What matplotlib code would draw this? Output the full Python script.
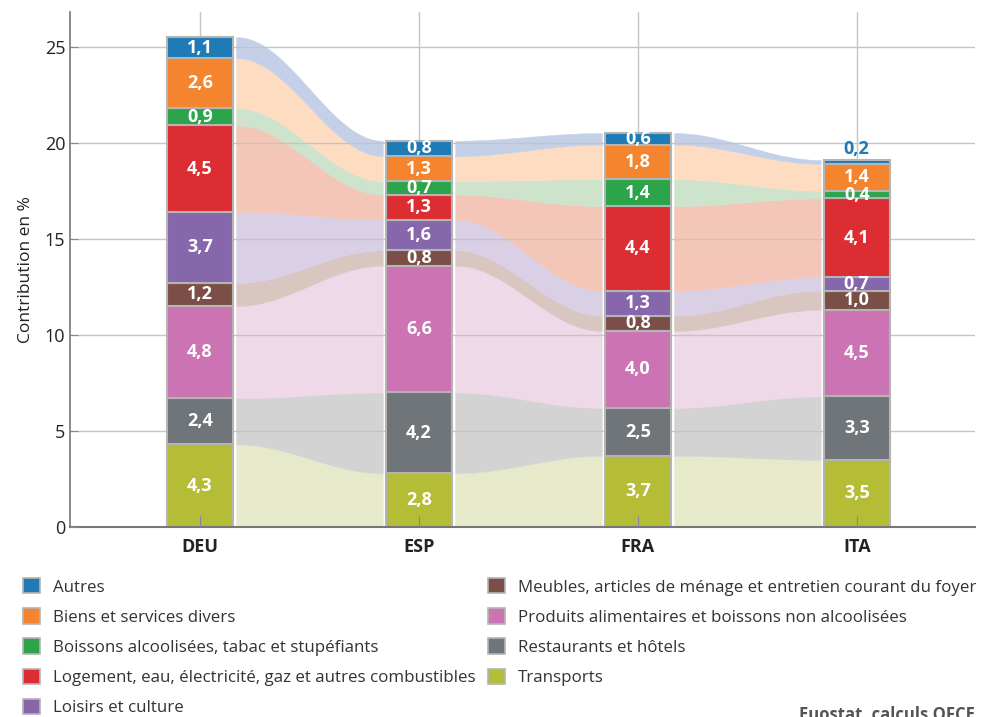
import numpy as np
import matplotlib.pyplot as plt
from matplotlib.patches import Patch

plt.rcParams['font.family'] = ['Open Sans', 'DejaVu Sans']

pays = ['DEU', 'ESP', 'FRA', 'ITA']

# contributions par poste (en points de %), ordre : DEU, ESP, FRA, ITA
autres = [1.1, 0.8, 0.6, 0.2]
biens_services = [2.6, 1.3, 1.8, 1.4]
boissons = [0.9, 0.7, 1.4, 0.4]
logement = [4.5, 1.3, 4.4, 4.1]
loisirs = [3.7, 1.6, 1.3, 0.7]
meubles = [1.2, 0.8, 0.8, 1.0]
produits_alim = [4.8, 6.6, 4.0, 4.5]
restaurants = [2.4, 4.2, 2.5, 3.3]
transports = [4.3, 2.8, 3.7, 3.5]

noms = ['Autres',
        'Biens et services divers',
        'Boissons alcoolisées, tabac et stupéfiants',
        'Logement, eau, électricité, gaz et autres combustibles',
        'Loisirs et culture',
        'Meubles, articles de ménage et entretien courant du foyer',
        'Produits alimentaires et boissons non alcoolisées',
        'Restaurants et hôtels',
        'Transports']
series = [autres, biens_services, boissons, logement, loisirs,
          meubles, produits_alim, restaurants, transports]
couleurs = ['#1f7bb6', '#f5842e', '#2ca54a', '#dc2e32', '#8767ac',
            '#7b4f47', '#cc74b3', '#70757a', '#b5bd37']
# couleurs pâles des rubans
pales = ['#c4d0e8', '#fddcc2', '#cde3cb', '#f3c6b8', '#d9d0e6',
         '#d9c6c1', '#efd8e8', '#d3d3d3', '#e6eacb']

fig = plt.figure(figsize=(9.97, 7.17), dpi=100)
ax = fig.add_axes([70 / 997, 1 - 527 / 717, 905 / 997, 515 / 717])

x = np.arange(len(pays))
w = 0.30
gap = 0.015

# empilement de bas en haut : ordre inverse de la légende
ordre = list(range(len(series)))[::-1]
vals = np.array([series[k] for k in ordre])
bas = np.vstack([np.zeros(len(pays)), np.cumsum(vals, axis=0)[:-1]])
haut = np.cumsum(vals, axis=0)

# rubans entre les barres
for i in range(len(pays) - 1):
    x0 = x[i] + w / 2 + gap
    x1 = x[i + 1] - w / 2 - gap
    xs = np.linspace(x0, x1, 120)
    t = (xs - x0) / (x1 - x0)
    s = (1 - np.cos(np.pi * t)) / 2
    for j, k in enumerate(ordre):
        lo = bas[j, i] + (bas[j, i + 1] - bas[j, i]) * s
        hi = haut[j, i] + (haut[j, i + 1] - haut[j, i]) * s
        ax.fill_between(xs, lo, hi, color=pales[k], linewidth=0.3,
                        edgecolor=pales[k], zorder=1)

yt = [0, 5, 10, 15, 20, 25]
# grille au-dessus des rubans, sous les barres
for v in yt[1:]:
    ax.axhline(v, color='#c4c4c4', linewidth=1, zorder=2)
for xi in x:
    ax.axvline(xi, color='#c4c4c4', linewidth=1, zorder=2)

# barres
for j, k in enumerate(ordre):
    ax.bar(x, vals[j], w, bottom=bas[j], color=couleurs[k],
           edgecolor='#b4b4b4', linewidth=1.5, zorder=3)
    for i in range(len(pays)):
        v = vals[j, i]
        lab = f'{v:.1f}'.replace('.', ',')
        if v < 0.3:
            ax.text(x[i], haut[j, i] + 0.12, lab, ha='center', va='bottom',
                    color=couleurs[k], fontsize=13, fontweight='bold', zorder=5)
        else:
            ax.text(x[i], bas[j, i] + v / 2, lab, ha='center', va='center',
                    color='white', fontsize=13, fontweight='bold', zorder=5)

ax.set_xlim(-0.594, 3.54)
ax.set_ylim(0, 26.8)
ax.set_yticks(yt)
ax.set_xticks(x)
ax.set_xticklabels(pays, fontsize=13, fontweight='bold', color='#222222')
ax.tick_params(axis='y', labelsize=13, colors='#222222', direction='in',
               length=6, color='#888888')
ax.tick_params(axis='x', direction='in', length=8, color='#8a7fa8', pad=8)
ax.set_axisbelow(False)
for a in (ax.xaxis, ax.yaxis):
    a.set_zorder(4)
for sp in ['top', 'right']:
    ax.spines[sp].set_visible(False)
ax.spines['left'].set_color('#777777')
ax.spines['bottom'].set_color('#777777')
ax.spines['left'].set_linewidth(1.2)
ax.spines['bottom'].set_linewidth(1.5)
ax.spines['left'].set_zorder(4)
ax.spines['bottom'].set_zorder(4)
ax.set_ylabel('Contribution en %', fontsize=12.5, color='#222222', labelpad=8)

poignees = [Patch(facecolor=c, edgecolor='#b4b4b4', linewidth=1.2) for c in couleurs]
fig.legend(poignees, noms, ncol=2, loc='upper left',
           bbox_to_anchor=(8 / 997, 1 - 563 / 717), frameon=False,
           fontsize=12.2, handlelength=1.0, handleheight=1.0,
           labelspacing=0.75, columnspacing=0.75, handletextpad=0.75,
           labelcolor='#333333')

fig.text(975 / 997, 1 - 706 / 717, 'Euostat, calculs OFCE', ha='right', va='top',
         fontsize=12, fontweight='bold', color='#555555')

fig.savefig('out.png', dpi=100)
